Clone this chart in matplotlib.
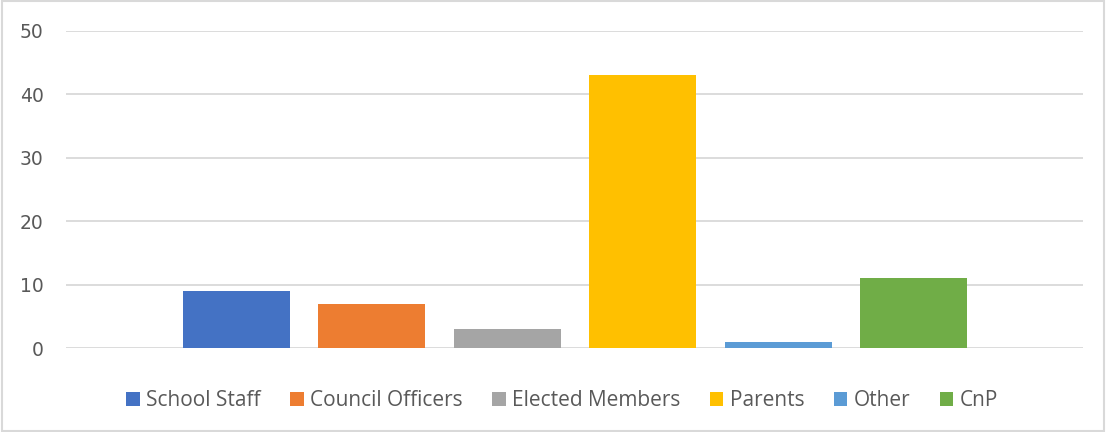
import matplotlib
matplotlib.use("Agg")
from matplotlib import pyplot as plt
from matplotlib.patches import Rectangle

series = ["School Staff", "Council Officers", "Elected Members", "Parents", "Other", "CnP"]
values = [9, 7, 3, 43, 1, 11]
colors = ["#4472C4", "#ED7D31", "#A5A5A5", "#FFC000", "#5B9BD5", "#70AD47"]
yticks = [0, 10, 20, 30, 40, 50]

fig = plt.figure(figsize=(11.06, 4.32), dpi=100)
ax = fig.add_axes([66 / 1106, 1 - 348 / 432, (1083 - 66) / 1106, (348 - 31) / 432])

handles = []
for i, (name, v, c) in enumerate(zip(series, values, colors)):
    h = ax.bar(i, v, width=0.79, color=c, label=name, zorder=3)
    handles.append(h)

ax.set_ylim(0, 50)
ax.set_xlim(-1.258, 6.251)
ax.set_yticks(yticks)
ax.set_xticks([])
ax.yaxis.grid(True, color="#D9D9D9", linewidth=1.3, zorder=0)
for s in ax.spines.values():
    s.set_visible(False)
ax.tick_params(axis="y", length=0, pad=16, labelsize=13.5, labelcolor="#595959")
for t in ax.get_yticklabels():
    t.set_fontfamily("DejaVu Sans")

leg = fig.legend(handles=handles, loc="center", bbox_to_anchor=(562 / 1106, 1 - 401 / 432),
                 ncol=6, frameon=False, handlelength=0.67, handleheight=0.67,
                 handletextpad=0.3, columnspacing=1.4,
                 prop={"family": "Open Sans", "size": 15})
for t in leg.get_texts():
    t.set_color("#595959")

fig.patches.append(Rectangle((0.002, 0.003), 0.996, 0.994, transform=fig.transFigure,
                             fill=False, edgecolor="#D9D9D9", linewidth=1.5))

fig.savefig("out.png", dpi=100)
